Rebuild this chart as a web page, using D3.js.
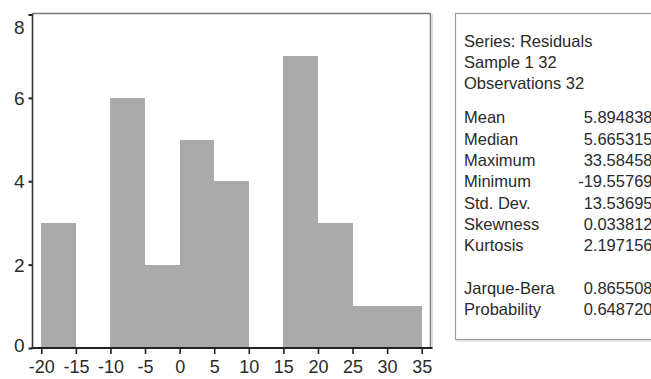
<!DOCTYPE html>
<html>
<head>
<meta charset="utf-8">
<script src="https://cdn.jsdelivr.net/npm/d3@7"></script>
<style>
html,body{margin:0;padding:0;background:#fff;}
svg{display:block;}
text{font-family:"Liberation Sans", Arial, Helvetica, sans-serif;fill:#2a2a2a;}
</style>
</head>
<body>
<svg id="chart" width="651" height="379"></svg>
<script>
// ---- data ----
const binStarts = [-20, -15, -10, -5, 0, 5, 10, 15, 20, 25, 30];
const binWidth = 5;
const counts = [3, 0, 6, 2, 5, 4, 0, 7, 3, 1, 1];
const xTickValues = [-20, -15, -10, -5, 0, 5, 10, 15, 20, 25, 30, 35];
const yTickValues = [0, 2, 4, 6, 8];
const headerLines = ["Series: Residuals", "Sample 1 32", "Observations 32"];
const statNames = ["Mean", "Median", "Maximum", "Minimum", "Std. Dev.", "Skewness", "Kurtosis"];
const statValues = ["5.894838", "5.665315", "33.58458", "-19.55769", "13.53695", "0.033812", "2.197156"];
const testNames = ["Jarque-Bera", "Probability"];
const testValues = ["0.865508", "0.648720"];

// ---- layout ----
const svg = d3.select("#chart");
const frame = {left: 32.5, right: 430.5, top: 13.5, bottom: 348};
const x = d3.scaleLinear().domain([-20, 35]).range([41.3, 421.7]);
const y = d3.scaleLinear().domain([0, 8]).range([348, 14.5]);

// bars
svg.append("g").attr("shape-rendering", "crispEdges").selectAll("rect")
  .data(binStarts.map((s, i) => ({x0: s, x1: s + binWidth, n: counts[i]})).filter(d => d.n > 0))
  .join("rect")
  .attr("x", d => Math.round(x(d.x0)))
  .attr("width", d => Math.round(x(d.x1)) - Math.round(x(d.x0)))
  .attr("y", d => y(d.n))
  .attr("height", d => y(0) - y(d.n))
  .attr("fill", "#aaaaaa");

// frame top & right
svg.append("line").attr("x1", frame.left).attr("x2", frame.right)
  .attr("y1", frame.top).attr("y2", frame.top)
  .attr("stroke", "#7a7a7a").attr("stroke-width", 1.5);
svg.append("line").attr("x1", frame.right).attr("x2", frame.right)
  .attr("y1", frame.top).attr("y2", frame.bottom)
  .attr("stroke", "#7a7a7a").attr("stroke-width", 1.5);
svg.append("line").attr("x1", frame.right + 2).attr("x2", frame.right + 2)
  .attr("y1", frame.top + 1).attr("y2", frame.bottom)
  .attr("stroke", "#dddddd").attr("stroke-width", 1);

// x axis
const xAxis = d3.axisBottom(x).tickValues(xTickValues).tickSize(6).tickPadding(4).tickFormat(d => String(d));
const gx = svg.append("g").attr("transform", `translate(0,${frame.bottom})`).call(xAxis);
gx.select(".domain").remove();
gx.selectAll(".tick line").attr("stroke", "#222").attr("stroke-width", 1.6);
gx.selectAll(".tick text").attr("font-size", 18).attr("fill", "#2a2a2a")
  .attr("font-family", "Liberation Sans, Arial, sans-serif").attr("dy", "0.85em");
svg.append("line").attr("x1", frame.left - 1).attr("x2", frame.right + 2)
  .attr("y1", frame.bottom).attr("y2", frame.bottom)
  .attr("stroke", "#222").attr("stroke-width", 2);

// y axis
const yAxis = d3.axisLeft(y).tickValues(yTickValues).tickSize(4).tickPadding(5).tickFormat(d => String(d));
const gy = svg.append("g").attr("transform", `translate(${frame.left},0)`).call(yAxis);
gy.select(".domain").remove();
gy.selectAll(".tick line").attr("stroke", "#222").attr("stroke-width", 2);
gy.selectAll(".tick text").attr("font-size", 19).attr("fill", "#2a2a2a")
  .attr("font-family", "Liberation Sans, Arial, sans-serif")
  .attr("x", -8)
  .attr("dy", d => d === 8 ? "1.0em" : (d === 0 ? "0.18em" : "0.35em"));
svg.append("line").attr("x1", frame.left).attr("x2", frame.left)
  .attr("y1", frame.top).attr("y2", frame.bottom)
  .attr("stroke", "#333").attr("stroke-width", 1.6);

// stats box
const box = {x: 455.5, y: 13.5, w: 260, h: 326};
svg.append("rect").attr("x", box.x + 1.5).attr("y", box.y + 1.5)
  .attr("width", box.w).attr("height", box.h)
  .attr("fill", "none").attr("stroke", "#e2e2e2").attr("stroke-width", 1.5);
svg.append("rect").attr("x", box.x).attr("y", box.y)
  .attr("width", box.w).attr("height", box.h)
  .attr("fill", "#fff").attr("stroke", "#9a9a9a").attr("stroke-width", 1.2);

const tx = 464, vx = 652.5, fs = 16.5, lh = 21.3;
const st = svg.append("g").attr("font-size", fs);
headerLines.forEach((t, i) => {
  st.append("text").attr("x", tx).attr("y", 46.5 + i * lh).text(t);
});
statNames.forEach((t, i) => {
  const yy = 123.3 + i * lh;
  st.append("text").attr("x", tx).attr("y", yy).text(t);
  st.append("text").attr("x", vx).attr("y", yy).attr("text-anchor", "end").text(statValues[i]);
});
testNames.forEach((t, i) => {
  const yy = 294 + i * lh;
  st.append("text").attr("x", tx).attr("y", yy).text(t);
  st.append("text").attr("x", vx).attr("y", yy).attr("text-anchor", "end").text(testValues[i]);
});
</script>
</body>
</html>
